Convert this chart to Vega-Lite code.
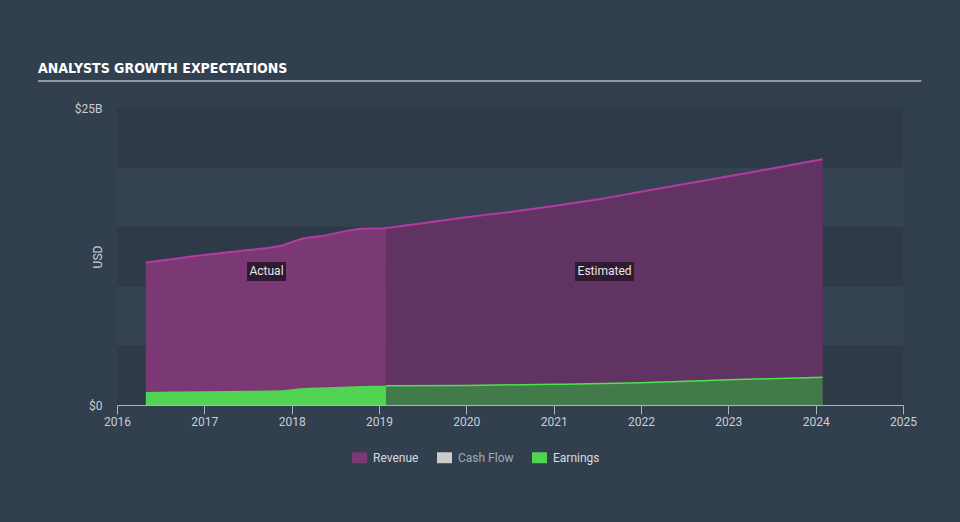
{
  "$schema": "https://vega.github.io/schema/vega-lite/v6.json",
  "width": 786,
  "height": 297,
  "autosize": {"type": "none"},
  "padding": {"left": 117, "top": 108, "right": 57, "bottom": 117},
  "background": "#323f4e",
  "config": {"view": {"stroke": null}, "font": "Roboto"},
  "title": {"text": "ANALYSTS GROWTH EXPECTATIONS", "anchor": "start", "frame": "group", "dx": -79, "offset": 4, "font": "DejaVu Sans Condensed", "fontSize": 14, "fontWeight": "bold", "color": "#ffffff"},
  "datasets": {
    "bands": [
      {"year": 2016, "year2": 2025, "value": 0, "value2": 5000000000, "c": "dark"},
      {"year": 2016, "year2": 2025, "value": 5000000000, "value2": 10000000000, "c": "light"},
      {"year": 2016, "year2": 2025, "value": 10000000000, "value2": 15000000000, "c": "dark"},
      {"year": 2016, "year2": 2025, "value": 15000000000, "value2": 20000000000, "c": "light"},
      {"year": 2016, "year2": 2025, "value": 20000000000, "value2": 25000000000, "c": "dark"}
    ],
    "series": [
      {"series": "Revenue", "phase": "Actual", "year": 2016.33, "value": 12000000000},
      {"series": "Revenue", "phase": "Actual", "year": 2016.6, "value": 12250000000},
      {"series": "Revenue", "phase": "Actual", "year": 2016.9, "value": 12550000000},
      {"series": "Revenue", "phase": "Actual", "year": 2017.2, "value": 12800000000},
      {"series": "Revenue", "phase": "Actual", "year": 2017.5, "value": 13050000000},
      {"series": "Revenue", "phase": "Actual", "year": 2017.9, "value": 13450000000},
      {"series": "Revenue", "phase": "Actual", "year": 2018.1, "value": 13950000000},
      {"series": "Revenue", "phase": "Actual", "year": 2018.4, "value": 14300000000},
      {"series": "Revenue", "phase": "Actual", "year": 2018.75, "value": 14800000000},
      {"series": "Revenue", "phase": "Actual", "year": 2019.08, "value": 14900000000},
      {"series": "Revenue", "phase": "Estimated", "year": 2019.08, "value": 14900000000},
      {"series": "Revenue", "phase": "Estimated", "year": 2019.5, "value": 15300000000},
      {"series": "Revenue", "phase": "Estimated", "year": 2020.0, "value": 15800000000},
      {"series": "Revenue", "phase": "Estimated", "year": 2020.5, "value": 16250000000},
      {"series": "Revenue", "phase": "Estimated", "year": 2021.0, "value": 16750000000},
      {"series": "Revenue", "phase": "Estimated", "year": 2021.5, "value": 17300000000},
      {"series": "Revenue", "phase": "Estimated", "year": 2022.0, "value": 17950000000},
      {"series": "Revenue", "phase": "Estimated", "year": 2022.5, "value": 18600000000},
      {"series": "Revenue", "phase": "Estimated", "year": 2023.0, "value": 19250000000},
      {"series": "Revenue", "phase": "Estimated", "year": 2023.5, "value": 19900000000},
      {"series": "Revenue", "phase": "Estimated", "year": 2024.08, "value": 20700000000},
      {"series": "Earnings", "phase": "Actual", "year": 2016.33, "value": 1100000000},
      {"series": "Earnings", "phase": "Actual", "year": 2017.0, "value": 1150000000},
      {"series": "Earnings", "phase": "Actual", "year": 2017.5, "value": 1200000000},
      {"series": "Earnings", "phase": "Actual", "year": 2017.9, "value": 1250000000},
      {"series": "Earnings", "phase": "Actual", "year": 2018.1, "value": 1400000000},
      {"series": "Earnings", "phase": "Actual", "year": 2018.5, "value": 1520000000},
      {"series": "Earnings", "phase": "Actual", "year": 2018.8, "value": 1600000000},
      {"series": "Earnings", "phase": "Actual", "year": 2019.08, "value": 1620000000},
      {"series": "Earnings", "phase": "Estimated", "year": 2019.08, "value": 1620000000},
      {"series": "Earnings", "phase": "Estimated", "year": 2020.0, "value": 1650000000},
      {"series": "Earnings", "phase": "Estimated", "year": 2021.0, "value": 1740000000},
      {"series": "Earnings", "phase": "Estimated", "year": 2022.0, "value": 1880000000},
      {"series": "Earnings", "phase": "Estimated", "year": 2022.5, "value": 2000000000},
      {"series": "Earnings", "phase": "Estimated", "year": 2023.0, "value": 2120000000},
      {"series": "Earnings", "phase": "Estimated", "year": 2024.08, "value": 2330000000}
    ],
    "notes": [
      {"label": "Actual", "year": 2017.489, "year2": 2017.935, "value": 10440000000, "value2": 12040000000, "xc": 2017.712, "yc": 11240000000},
      {"label": "Estimated", "year": 2021.245, "year2": 2021.92, "value": 10440000000, "value2": 12040000000, "xc": 2021.583, "yc": 11240000000}
    ],
    "underline": [
      {"year": 2015.095, "year2": 2025.21, "value": 27270000000}
    ]
  },
  "encoding": {
    "x": {
      "field": "year", "type": "quantitative", "title": null,
      "scale": {"domain": [2016, 2025], "nice": false, "zero": false},
      "axis": {"values": [2016, 2017, 2018, 2019, 2020, 2021, 2022, 2023, 2024, 2025], "format": "d", "grid": false, "domainColor": "#aab4be", "tickColor": "#aab4be", "tickSize": 9, "labelColor": "#c9ced4", "labelFontSize": 12, "labelPadding": 2, "labelFlush": false, "labelFont": "Roboto"}
    },
    "y": {
      "field": "value", "type": "quantitative", "title": "USD",
      "scale": {"domain": [0, 25000000000], "nice": false},
      "axis": {"values": [0, 25000000000], "labelExpr": "datum.value == 0 ? '$0' : '$' + format(datum.value / 1e9, 'd') + 'B'", "grid": false, "domain": false, "ticks": false, "labelPadding": 15, "labelColor": "#c9ced4", "labelFontSize": 12, "labelFont": "Roboto", "titleColor": "#c9ced4", "titleFontSize": 12, "titleFontWeight": "normal", "titleFont": "Roboto", "titleX": -20, "titleY": 148.5, "titleAlign": "center", "titleBaseline": "middle"}
    }
  },
  "layer": [
    {
      "data": {"name": "bands"},
      "mark": {"type": "rect"},
      "encoding": {
        "x2": {"field": "year2"},
        "y2": {"field": "value2"},
        "fill": {"condition": {"test": "datum.c === 'dark'", "value": "#2e3a48"}, "value": "#344251"}
      }
    },
    {
      "data": {"name": "series"},
      "transform": [{"filter": "datum.series === 'Revenue' && datum.phase === 'Actual'"}],
      "mark": {"type": "area", "interpolate": "monotone", "fillOpacity": 1},
      "encoding": {
        "color": {"field": "series", "type": "nominal",
          "scale": {"domain": ["Revenue", "Cash Flow", "Earnings"], "range": ["#7a3874", "#cccccc", "#50d452"]},
          "legend": {"orient": "none", "legendX": 235, "legendY": 342, "direction": "horizontal", "title": null, "symbolType": "M-1,-0.73H1V0.73H-1Z", "symbolSize": 225, "labelColor": "#d5d9de", "labelFontSize": 12, "labelFont": "Roboto", "columnPadding": 18, "labelOffset": 6, "symbolStrokeWidth": 0,
            "encode": {
              "symbols": {"update": {"fill": {"signal": "datum.value === 'Revenue' ? '#b13aa1' : datum.value === 'Cash Flow' ? '#cccccc' : '#4ee24e'"}, "opacity": {"value": 1}, "strokeWidth": {"value": 0}}},
              "labels": {"update": {"fill": {"signal": "datum.label === 'Cash Flow' ? '#a3abb4' : '#d8dce0'"}}}
            }
          }
        }
      }
    },
    {
      "data": {"name": "series"},
      "transform": [{"filter": "datum.series === 'Revenue' && datum.phase === 'Estimated'"}],
      "mark": {"type": "area", "interpolate": "monotone", "fill": "#613362"}
    },
    {
      "data": {"name": "series"},
      "transform": [{"filter": "datum.series === 'Earnings' && datum.phase === 'Actual'"}],
      "mark": {"type": "area", "interpolate": "monotone"},
      "encoding": {"color": {"field": "series", "type": "nominal"}}
    },
    {
      "data": {"name": "series"},
      "transform": [{"filter": "datum.series === 'Earnings' && datum.phase === 'Estimated'"}],
      "mark": {"type": "area", "interpolate": "monotone", "fill": "#437a4a"}
    },
    {
      "data": {"name": "series"},
      "transform": [{"filter": "datum.series === 'Revenue'"}],
      "mark": {"type": "line", "interpolate": "monotone", "stroke": "#b53aa3", "strokeWidth": 2}
    },
    {
      "data": {"name": "series"},
      "transform": [{"filter": "datum.series === 'Earnings' && datum.phase === 'Estimated'"}],
      "mark": {"type": "line", "interpolate": "monotone", "stroke": "#4ee24e", "strokeWidth": 1.5}
    },
    {
      "data": {"name": "notes"},
      "mark": {"type": "rect", "fill": "#2f1a31"},
      "encoding": {"x2": {"field": "year2"}, "y2": {"field": "value2"}}
    },
    {
      "data": {"name": "notes"},
      "mark": {"type": "text", "color": "#e8e8e8", "fontSize": 12, "font": "Roboto", "align": "center", "baseline": "middle"},
      "encoding": {
        "x": {"field": "xc", "type": "quantitative", "title": null},
        "y": {"field": "yc", "type": "quantitative", "title": "USD"},
        "text": {"field": "label"}
      }
    },
    {
      "data": {"name": "underline"},
      "mark": {"type": "rule", "stroke": "#aeb6bf", "strokeWidth": 1.5},
      "encoding": {
        "x2": {"field": "year2"}
      }
    }
  ]
}
